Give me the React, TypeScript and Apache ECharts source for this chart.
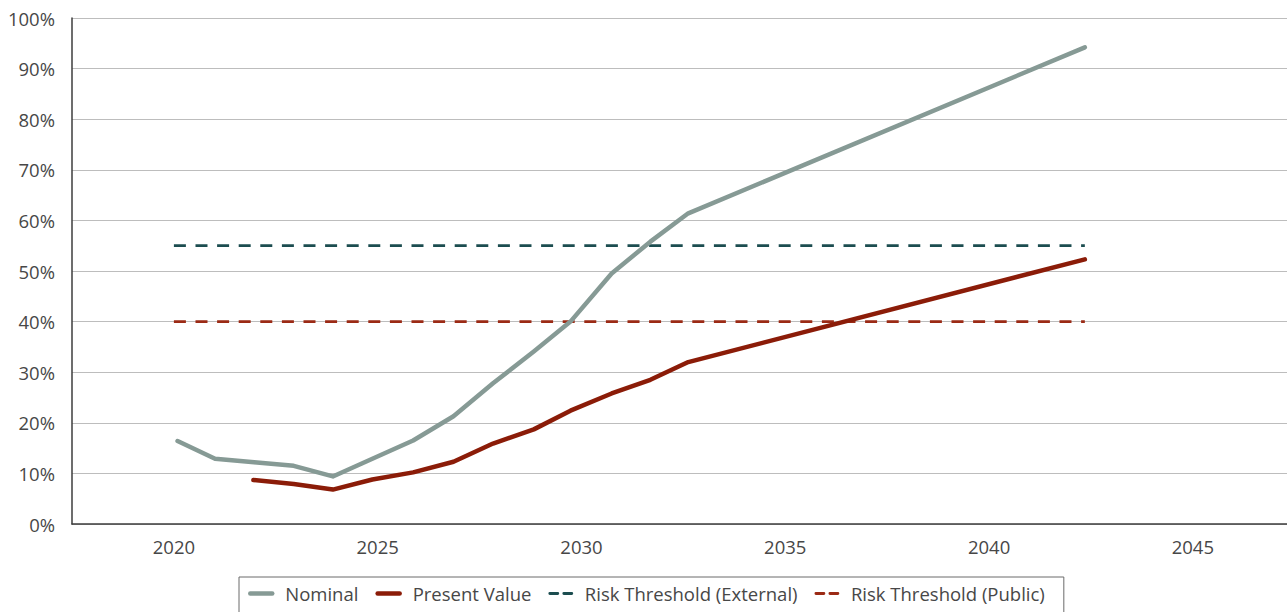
import React, { useEffect, useRef } from "react";
import * as echarts from "echarts";

// Projection years (fractional positions of each reporting point)
const nominalYears = [2020.09, 2021.01, 2021.97, 2022.94, 2023.9, 2024.87, 2025.87, 2026.86, 2027.83, 2028.83, 2029.73, 2030.74, 2031.69, 2032.62, 2042.35];
const nominalValues = [16.4, 12.9, 12.2, 11.5, 9.4, 12.9, 16.5, 21.3, 27.8, 34.1, 40.0, 49.5, 55.8, 61.4, 94.2];

const presentYears = [2021.95, 2022.94, 2023.9, 2024.87, 2025.87, 2026.86, 2027.83, 2028.83, 2029.73, 2030.74, 2031.69, 2032.62, 2042.35];
const presentValues = [8.7, 7.9, 6.8, 8.8, 10.2, 12.3, 15.9, 18.7, 22.4, 25.8, 28.5, 32.0, 52.3];

const thresholdYears = [2020.0, 2042.35];
const externalThreshold = [55, 55];
const publicThreshold = [40, 40];

const seriesNames = ["Nominal", "Present Value", "Risk Threshold (External)", "Risk Threshold (Public)"];

const pairs = (xs: number[], ys: number[]) => xs.map((x, i) => [x, ys[i]]);

const FONT = "'Open Sans', 'Noto Sans', sans-serif";
const TEXT = "#474747";

export default function App() {
  const ref = useRef<HTMLDivElement>(null);

  useEffect(() => {
    if (!ref.current) return;
    const chart = echarts.init(ref.current, undefined, { renderer: "svg" });
    chart.setOption({
      animation: false,
      backgroundColor: "#ffffff",
      textStyle: { fontFamily: FONT },
      grid: { left: 72, right: 0, top: 18, bottom: 88, containLabel: false },
      xAxis: {
        type: "value",
        min: 2017.5,
        max: 2047.31,
        interval: 2.5,
        axisLine: { show: true, onZero: false, lineStyle: { color: "#3d3d3d", width: 1.5 } },
        axisTick: { show: false },
        splitLine: { show: false },
        axisLabel: {
          margin: 13,
          color: TEXT,
          fontSize: 18.5,
          fontFamily: FONT,
          showMaxLabel: false,
          formatter: (v: number) => (Math.abs(v % 5) < 1e-6 ? String(v) : ""),
        },
      },
      yAxis: {
        type: "value",
        min: 0,
        max: 100,
        interval: 10,
        axisLine: { show: true, lineStyle: { color: "#3d3d3d", width: 1.5 } },
        axisTick: { show: false },
        splitLine: { show: true, lineStyle: { color: "#bdbdbd", width: 1 } },
        axisLabel: {
          margin: 17,
          color: TEXT,
          fontSize: 18.5,
          fontFamily: FONT,
          formatter: (v: number) => `${v}%`,
        },
      },
      legend: {
        left: 239,
        top: 577,
        orient: "horizontal",
        padding: [7, 19, 14, 9],
        borderColor: "#6b6b6b",
        borderWidth: 1,
        itemWidth: 22,
        itemHeight: 16,
        itemGap: 17,
        data: [
          { name: seriesNames[0] },
          { name: seriesNames[1] },
          { name: seriesNames[2], lineStyle: { type: [8, 6] } },
          { name: seriesNames[3], lineStyle: { type: [8, 6] } },
        ],
        itemStyle: { opacity: 0 },
        lineStyle: { width: "inherit", cap: "round" },
        textStyle: { color: TEXT, fontSize: 18.5, fontFamily: FONT, padding: [0, 0, 0, 8] },
      },
      series: [
        {
          name: seriesNames[0],
          type: "line",
          data: pairs(nominalYears, nominalValues),
          symbol: "none",
          color: "#869a95",
          lineStyle: { width: 4.5, cap: "round", join: "round", color: "#869a95" },
          z: 4,
        },
        {
          name: seriesNames[1],
          type: "line",
          data: pairs(presentYears, presentValues),
          symbol: "none",
          color: "#8b1c08",
          lineStyle: { width: 4.5, cap: "round", join: "round", color: "#8b1c08" },
          z: 4,
        },
        {
          name: seriesNames[2],
          type: "line",
          data: pairs(thresholdYears, externalThreshold),
          symbol: "none",
          color: "#1c4d50",
          lineStyle: { width: 2.8, type: [12, 9.6], color: "#1c4d50" },
          z: 3,
        },
        {
          name: seriesNames[3],
          type: "line",
          data: pairs(thresholdYears, publicThreshold),
          symbol: "none",
          color: "#9b2a15",
          lineStyle: { width: 2.8, type: [12, 9.6], color: "#9b2a15" },
          z: 3,
        },
      ],
    });
    return () => chart.dispose();
  }, []);

  return (
    <div
      ref={ref}
      style={{ position: "fixed", left: 0, top: 0, width: 1287, height: 612, background: "#fff" }}
    />
  );
}
